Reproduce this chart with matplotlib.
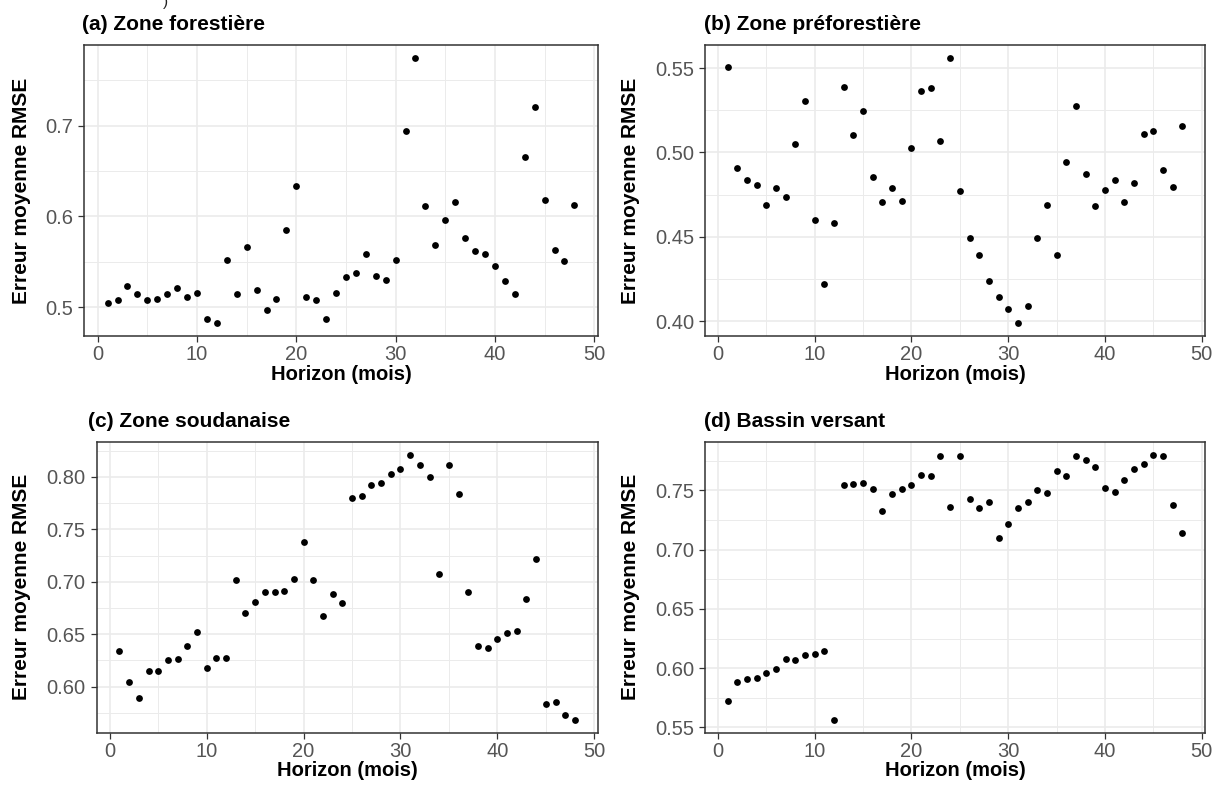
import matplotlib
matplotlib.use("Agg")
import matplotlib.pyplot as plt
from matplotlib.ticker import FixedLocator, FormatStrFormatter

plt.rcParams['font.family'] = ['Liberation Sans', 'DejaVu Sans']

horizon = list(range(1, 49))

rmse_forestiere = [0.505, 0.508, 0.524, 0.515, 0.508, 0.509, 0.515, 0.521, 0.511, 0.516,
                   0.487, 0.483, 0.552, 0.515, 0.566, 0.519, 0.497, 0.509, 0.585, 0.633,
                   0.511, 0.508, 0.487, 0.516, 0.533, 0.538, 0.559, 0.534, 0.530, 0.552,
                   0.694, 0.774, 0.611, 0.569, 0.596, 0.616, 0.576, 0.562, 0.559, 0.545,
                   0.529, 0.515, 0.665, 0.720, 0.618, 0.563, 0.551, 0.613]

rmse_preforestiere = [0.5506, 0.491, 0.4834, 0.481, 0.469, 0.479, 0.4737, 0.505, 0.5306, 0.4597,
                      0.422, 0.458, 0.5386, 0.5104, 0.5247, 0.4857, 0.4708, 0.479, 0.4714, 0.5028,
                      0.5363, 0.538, 0.5067, 0.5559, 0.4769, 0.4491, 0.4394, 0.4237, 0.414, 0.4073,
                      0.399, 0.409, 0.449, 0.469, 0.4394, 0.4945, 0.5275, 0.487, 0.4685, 0.4775,
                      0.4834, 0.4708, 0.482, 0.511, 0.5126, 0.4894, 0.4798, 0.5155]

rmse_soudanaise = [0.6336, 0.6047, 0.589, 0.6152, 0.615, 0.625, 0.6263, 0.6384, 0.6517, 0.618,
                   0.6275, 0.6275, 0.7017, 0.670, 0.6807, 0.690, 0.690, 0.6915, 0.703, 0.7381,
                   0.7017, 0.6674, 0.688, 0.6795, 0.7804, 0.7817, 0.7927, 0.794, 0.8025, 0.8073,
                   0.821, 0.811, 0.800, 0.707, 0.811, 0.7842, 0.690, 0.6384, 0.637, 0.6456,
                   0.6507, 0.6529, 0.6833, 0.7215, 0.583, 0.5852, 0.5734, 0.5684]

rmse_bassin = [0.5727, 0.5887, 0.5907, 0.5918, 0.596, 0.5991, 0.6078, 0.6067, 0.6112, 0.6123,
               0.6143, 0.5565, 0.7542, 0.7553, 0.7565, 0.7511, 0.7329, 0.7469, 0.7511, 0.7542,
               0.7629, 0.7618, 0.7789, 0.7363, 0.7789, 0.7424, 0.7351, 0.7405, 0.7094, 0.7212,
               0.7351, 0.7405, 0.750, 0.748, 0.766, 0.7618, 0.7789, 0.7755, 0.7694, 0.7522,
               0.7489, 0.7584, 0.7683, 0.7725, 0.7798, 0.7789, 0.7374, 0.7138]

titles = ["(a) Zone forestière", "(b) Zone préforestière",
          "(c) Zone soudanaise", "(d) Bassin versant"]
series = [rmse_forestiere, rmse_preforestiere, rmse_soudanaise, rmse_bassin]
yticks = [[0.5, 0.6, 0.7], [0.40, 0.45, 0.50, 0.55],
          [0.60, 0.65, 0.70, 0.75, 0.80], [0.55, 0.60, 0.65, 0.70, 0.75]]
yfmt = ["%.1f", "%.2f", "%.2f", "%.2f"]
xticks = [0, 10, 20, 30, 40, 50]
xminor = [5, 15, 25, 35, 45]

W, H = 1216, 789
fig = plt.figure(figsize=(W / 100, H / 100), dpi=100)

# layout in pixels: panel (left, right, top, bottom), title anchor, ylabel x
boxes = [(84.3, 597.7, 45, 336), (705, 1205, 45, 336),
         (96.7, 597.7, 441.7, 733), (705, 1205, 441.7, 733)]
title_xy = [(82, 24), (704, 24), (88, 421), (704, 421)]
ylabel_x = [22, 630, 22, 630]

def fx(px):
    return px / W

def fy(py):
    return 1 - py / H

for box, title, txy, ylx, ys, yt, fmt in zip(boxes, titles, title_xy, ylabel_x,
                                             series, yticks, yfmt):
    l, r, t, b = box
    ax = fig.add_axes([fx(l), fy(b), (r - l) / W, (b - t) / H])
    ax.scatter(horizon, ys, s=24, color='black', zorder=3, linewidths=0)
    xr = max(horizon) - min(horizon)
    ax.set_xlim(min(horizon) - 0.05 * xr, max(horizon) + 0.05 * xr)
    yr = max(ys) - min(ys)
    ax.set_ylim(min(ys) - 0.05 * yr, max(ys) + 0.05 * yr)
    ax.xaxis.set_major_locator(FixedLocator(xticks))
    ax.xaxis.set_minor_locator(FixedLocator(xminor))
    step = yt[1] - yt[0]
    ax.yaxis.set_major_locator(FixedLocator(yt))
    ax.yaxis.set_minor_locator(FixedLocator([yt[0] - step / 2] + [v + step / 2 for v in yt]))
    ax.yaxis.set_major_formatter(FormatStrFormatter(fmt))
    ax.grid(True, which='major', color='#ebebeb', linewidth=1.2, zorder=0)
    ax.grid(True, which='minor', color='#ebebeb', linewidth=0.7, zorder=0)
    ax.set_axisbelow(True)
    for sp in ax.spines.values():
        sp.set_color('#333333')
        sp.set_linewidth(1.1)
    ax.tick_params(which='major', length=4.3, width=0.9, color='#333333',
                   labelsize=14.5, labelcolor='#555555')
    ax.tick_params(axis='x', which='major', pad=2)
    ax.tick_params(axis='y', which='major', pad=3.6)
    ax.tick_params(which='minor', length=0)
    ax.set_xlabel("Horizon (mois)", fontsize=14.5, fontweight='bold', va='center')
    ax.xaxis.set_label_coords(fx((l + r) / 2), fy(b + 38), transform=fig.transFigure)
    ax.set_ylabel("Erreur moyenne RMSE", fontsize=15, fontweight='bold', va='center')
    ax.yaxis.set_label_coords(fx(ylx), fy((t + b) / 2), transform=fig.transFigure)
    fig.text(fx(txy[0]), fy(txy[1]), title, fontsize=15, fontweight='bold',
             ha='left', va='center')

fig.text(fx(163), fy(2), ")", fontsize=11, va='center', ha='left', color='#222222')

fig.savefig("out.png", dpi=100)
